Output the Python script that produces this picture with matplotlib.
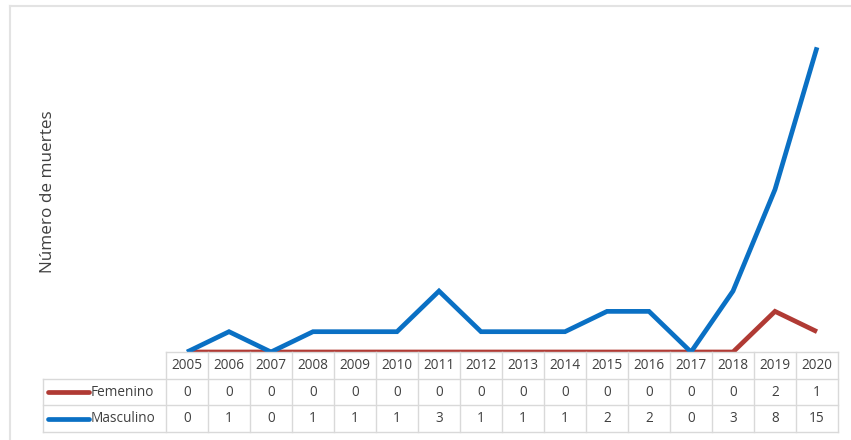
import matplotlib
matplotlib.use("Agg")
import matplotlib.pyplot as plt
from matplotlib.lines import Line2D

years = ["2005", "2006", "2007", "2008", "2009", "2010", "2011", "2012",
         "2013", "2014", "2015", "2016", "2017", "2018", "2019", "2020"]
femenino = [0, 0, 0, 0, 0, 0, 0, 0, 0, 0, 0, 0, 0, 0, 2, 1]
masculino = [0, 1, 0, 1, 1, 1, 3, 1, 1, 1, 2, 2, 0, 3, 8, 15]
series_names = ["Femenino", "Masculino"]
y_title = "Número de muertes"

RED = "#b03a34"
BLUE = "#0a70c4"
GRID = "#d9d9d9"
TEXT = "#404040"
FONT = "Open Sans"

W, H = 851, 440
fig = plt.figure(figsize=(W / 100, H / 100), dpi=100)
fig.patch.set_facecolor("white")

def fx(px):
    return px / W

def fy(py):
    return 1 - py / H

# outer chart frame
fig.add_artist(Line2D([fx(10), fx(10)], [fy(6), fy(440)], color="#e3e3e3", lw=1.5))
fig.add_artist(Line2D([fx(10), fx(851)], [fy(6), fy(6)], color="#e3e3e3", lw=1.5))

n = len(years)
x = list(range(n))

# plot area
left_px, right_px = 166, 838
top_px, bottom_px = 27, 352
ax = fig.add_axes([fx(left_px), fy(bottom_px), fx(right_px - left_px), (bottom_px - top_px) / H])
ax.plot(x, femenino, color=RED, lw=3.4, solid_capstyle="butt", solid_joinstyle="miter", zorder=3)
ax.plot(x, masculino, color=BLUE, lw=3.4, solid_capstyle="butt", solid_joinstyle="miter", zorder=4)
ax.set_xlim(-0.5, n - 0.5)
ax.set_ylim(0, 16)
ax.axis("off")

fig.text(fx(48), fy(192), y_title, rotation=90, ha="center", va="center",
         fontsize=12.3, color=TEXT, family=FONT)

# data table below the plot area
tbl_left = 43
col_w = (right_px - left_px) / n
label_cols = (left_px - tbl_left) / col_w
row_edges_px = [352, 378, 404, 432]
tax = fig.add_axes([fx(tbl_left), fy(row_edges_px[-1]), fx(right_px - tbl_left),
                    (row_edges_px[-1] - row_edges_px[0]) / H])
tax.set_xlim(-0.5 - label_cols, n - 0.5)
tax.set_ylim(3, 0)
tax.axis("off")

lw_grid = 1.0
# horizontal lines
tax.plot([-0.5, n - 0.5], [0, 0], color=GRID, lw=lw_grid, clip_on=False)
for r in (1, 2, 3):
    tax.plot([-0.5 - label_cols, n - 0.5], [r, r], color=GRID, lw=lw_grid, clip_on=False)
# vertical lines
for i in range(n + 1):
    tax.plot([i - 0.5, i - 0.5], [0, 3], color=GRID, lw=lw_grid, clip_on=False)
tax.plot([-0.5 - label_cols] * 2, [1, 3], color=GRID, lw=lw_grid, clip_on=False)

fs = 9.8
for i, yr in enumerate(years):
    tax.text(i, 0.5, yr, ha="center", va="center", fontsize=fs, color=TEXT, family=FONT)
for row, (vals, name, col) in enumerate(zip([femenino, masculino], series_names, [RED, BLUE])):
    yc = row + 1.5
    for i, v in enumerate(vals):
        tax.text(i, yc, str(v), ha="center", va="center", fontsize=fs, color=TEXT, family=FONT)
    x0 = -0.5 - label_cols
    tax.plot([x0 + 5 / col_w, x0 + 46 / col_w], [yc, yc], color=col, lw=3.4,
             solid_capstyle="round", clip_on=False)
    tax.text(x0 + 48 / col_w, yc, name, ha="left", va="center", fontsize=fs,
             color=TEXT, family=FONT)

fig.savefig("out.png", dpi=100, facecolor="white")
